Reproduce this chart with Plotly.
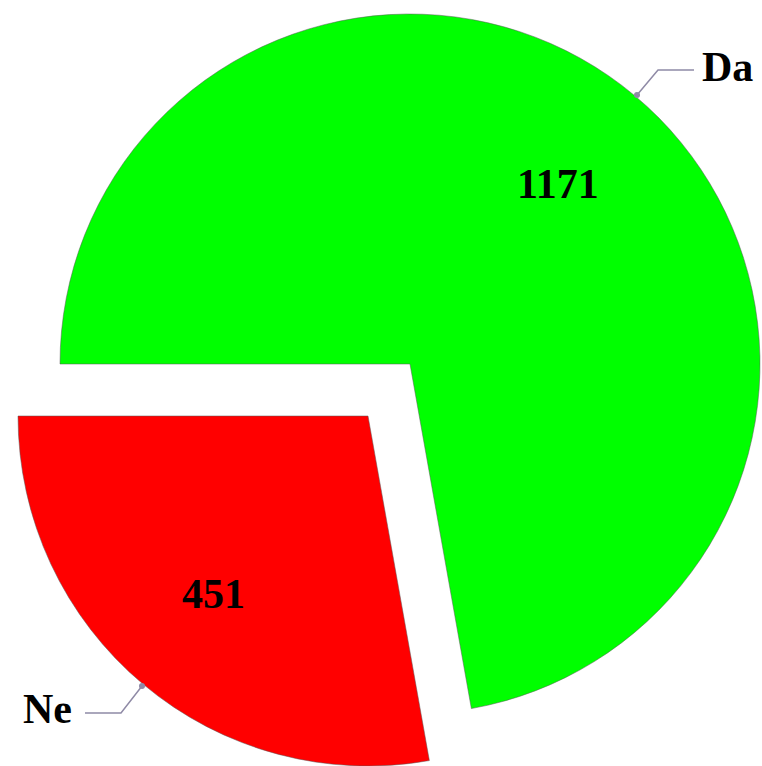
import plotly.graph_objects as go

labels = ["Da", "Ne"]
values = [1171, 451]
colors = ["#00FF00", "#FF0000"]

W, H = 762, 766


def px(x, y):
    return x / W, 1 - y / H


FONT = dict(family="Liberation Serif, Times New Roman, serif", size=42, color="black", weight="bold")
EDGE = "rgba(90,90,90,0.5)"

fig = go.Figure()

# main (Da) slice, not pulled
fig.add_trace(go.Pie(
    labels=labels, values=values, sort=False, direction="clockwise", rotation=-90,
    marker=dict(colors=[colors[0], "rgba(0,0,0,0)"], line=dict(color=[EDGE, "rgba(0,0,0,0)"], width=1)),
    textinfo="none", hoverinfo="label+value",
    domain=dict(x=[60 / W, 760 / W], y=[1 - 714 / H, 1 - 14 / H]),
    showlegend=False,
))

# exploded (Ne) slice
fig.add_trace(go.Pie(
    labels=labels, values=values, sort=False, direction="clockwise", rotation=-90,
    marker=dict(colors=["rgba(0,0,0,0)", colors[1]], line=dict(color=["rgba(0,0,0,0)", EDGE], width=1)),
    textinfo="none", hoverinfo="label+value",
    domain=dict(x=[18 / W, 718 / W], y=[0, 700 / H]),
    showlegend=False,
))

# leader lines
line_col = "#8f8aa6"
for pts in ([(637, 95), (658, 70), (694, 70)], [(142, 686), (121, 713), (85, 713)]):
    path = "M " + " L ".join(f"{px(x, y)[0]},{px(x, y)[1]}" for x, y in pts)
    fig.add_shape(type="path", path=path, xref="paper", yref="paper",
                  line=dict(color=line_col, width=1.5))
    cx, cy = px(*pts[0])
    fig.add_shape(type="circle", xref="paper", yref="paper",
                  x0=cx - 3 / W, x1=cx + 3 / W, y0=cy - 3 / H, y1=cy + 3 / H,
                  fillcolor=line_col, line=dict(width=0))

# category labels
for lab, (x, y) in zip(labels, [(727, 67), (47, 709)]):
    ax, ay = px(x, y)
    fig.add_annotation(text=lab, x=ax, y=ay, xref="paper", yref="paper",
                       showarrow=False, font=FONT, xanchor="center", yanchor="middle")

# value labels
for val, (x, y) in zip(values, [(558, 184), (213, 594)]):
    ax, ay = px(x, y)
    fig.add_annotation(text=str(val), x=ax, y=ay, xref="paper", yref="paper",
                       showarrow=False, font=FONT, xanchor="center", yanchor="middle")

fig.update_layout(
    width=W, height=H, margin=dict(l=0, r=0, t=0, b=0),
    paper_bgcolor="white", plot_bgcolor="white", showlegend=False,
)

fig.write_html("out.html", config={"displayModeBar": False},
               post_script="document.body.style.margin='0px';")
